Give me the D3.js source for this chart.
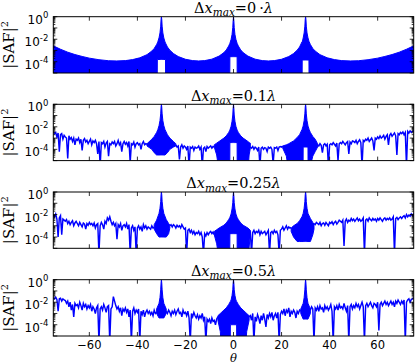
<!DOCTYPE html>
<html><head><meta charset="utf-8">
<script src="https://cdn.jsdelivr.net/npm/d3@7"></script>
<style>body{margin:0;background:#fff}svg{display:block}</style>
</head><body>
<svg id="chart" width="415" height="364"></svg>
<script>
const _ = null;
// x grid of the noisy series: theta from -75 to 75 in 0.5 degree steps
const thetaStart = -75, thetaStep = 0.5;
const xTicks = [-60, -40, -20, 0, 20, 40, 60];
const yLabelExps = [0, -2, -4];
const panelValues = ["0", "0.1", "0.25", "0.5"];

// |SAF|^2 as log10 values (null = covered by the dense lobe band)
const p2Noise = [
-2.45,-2.6,-2.5,-2.9,-2.55,-4.2,-2.7,-2.6,-3.1,-2.75,
-2.9,-3.0,-4.8,-2.8,-3.1,-2.95,-3.3,-3.0,-3.6,-3.1,
-3.2,-3.0,-3.4,-3.1,-4.1,-3.2,-3.05,-3.35,-3.2,-3.5,
-3.3,-3.1,-3.6,-3.25,-3.4,-3.2,-3.5,-4.4,-3.3,-5.5,
-3.4,-3.5,-3.3,-3.8,-3.45,-3.3,-4.6,-3.5,-3.6,-3.35,
-3.5,-3.3,-3.7,-3.5,-3.2,-3.6,-3.4,-4.2,-3.5,-3.3,
-3.55,-3.4,-3.7,-3.3,-5.2,-3.5,-3.6,-3.35,-3.8,-3.5,
-3.4,-3.6,-3.5,-4.0,-3.5,-3.3,-3.6,-3.5,-3.55,_,
_,_,_,_,_,_,_,_,_,_,
_,_,_,_,_,_,_,_,_,_,
_,_,-3.6,-3.8,-3.7,-4.9,-3.8,-3.6,-3.9,-3.7,
-3.8,-4.0,-3.7,-5.5,-3.8,-3.9,-3.75,-4.1,-3.8,-3.9,
-3.85,-3.7,-4.0,-3.8,-5.5,-3.9,-3.8,-4.2,-3.75,-3.9,
-3.8,-3.7,-3.9,-3.75,-3.8,_,_,_,_,_,
_,_,_,_,_,_,_,_,_,_,
_,_,_,_,_,_,_,_,_,_,
_,_,_,_,-3.8,-3.9,-3.75,-4.0,-3.8,-3.9,
-4.1,-3.8,-5.5,-3.9,-3.8,-4.0,-3.85,-3.9,-4.2,-3.8,
-3.9,-3.8,-4.0,-5.3,-3.85,-3.9,-3.8,-4.1,-3.8,-3.75,
-3.8,-3.7,_,_,_,_,_,_,_,_,
_,_,_,_,_,_,_,_,_,_,
_,_,_,_,_,_,_,_,_,_,
-3.6,-3.7,-3.5,-3.65,-4.3,-3.6,-3.5,-3.7,-3.55,-5.5,
-3.6,-3.5,-3.6,-3.4,-3.55,-3.7,-3.45,-5.0,-3.5,-3.4,
-3.5,-3.3,-3.45,-3.6,-3.4,-3.3,-4.4,-3.35,-3.5,-3.25,
-3.3,-3.4,-3.2,-3.5,-3.3,-3.15,-3.4,-5.5,-3.2,-3.3,
-3.1,-3.2,-3.0,-3.3,-3.15,-3.0,-3.25,-4.1,-3.0,-3.1,
-2.9,-3.05,-2.8,-3.0,-2.9,-2.75,-3.1,-2.85,-2.7,-3.6,
-2.75,-2.6,-2.85,-2.7,-2.55,-2.8,-4.5,-2.6,-2.7,-2.5,
-2.6,-2.45,-2.7,-2.5,-5.5,-2.4,-2.55,-2.35,-2.5,-2.4,
-2.35];

const p3Noise = [
-2.0,-2.2,-1.95,-2.4,-4.0,-2.3,-2.1,-3.8,-2.4,-2.5,
-2.6,-2.45,-2.8,-2.6,-2.9,-2.7,-2.55,-3.0,-2.75,-2.6,
-2.8,-3.0,-2.7,-2.9,-3.1,-2.75,-2.85,-3.3,-2.8,-2.95,
-2.7,-2.9,-2.8,-3.0,-2.75,-3.2,-2.9,-2.8,-5.5,-3.0,
-2.7,-2.9,-3.3,-2.6,-2.8,-2.3,-2.5,-2.2,-2.6,-2.9,
-2.7,-3.0,-2.8,-4.2,-2.9,-3.1,-2.8,-3.4,-3.0,-2.9,
-3.1,-2.8,-3.3,-2.9,-5.5,-3.2,-3.0,-3.4,-3.1,-5.5,
-3.2,-3.0,-3.3,-3.1,-3.5,-2.9,-3.2,-3.0,-3.3,-3.1,
-3.2,-3.3,-3.0,-3.2,-3.1,_,_,_,_,_,
_,_,_,_,_,_,_,-3.0,-2.9,-3.1,
-2.9,-3.0,-3.2,-2.95,-3.1,-3.0,-3.2,-2.9,-3.1,-3.3,
-3.2,-5.5,-3.4,-3.3,-3.6,-3.4,-3.7,-3.5,-3.8,-3.6,
-3.7,-3.5,-3.8,-3.6,-4.0,-5.5,-3.7,-3.9,-3.6,-3.8,
-3.6,-3.5,-3.7,-3.55,-3.8,_,_,_,_,_,
_,_,_,_,_,_,_,_,_,_,
_,_,_,_,_,_,_,_,_,_,
_,_,_,_,-3.5,-5.5,-3.6,-3.4,-3.7,-3.5,
-3.6,-3.4,-3.8,-3.5,-3.7,-3.6,-3.5,-3.8,-3.6,-3.4,
-5.5,-3.6,-3.5,-3.7,-3.4,-3.6,-3.5,-3.8,-5.5,-3.4,
-3.3,-3.1,-3.4,-3.2,-3.0,-3.3,-3.1,-3.2,-3.15,_,
_,_,_,_,_,_,_,_,_,_,
_,_,_,_,_,_,_,-2.8,-2.9,-2.7,
-2.8,-2.9,-2.7,-3.0,-2.8,-2.75,-2.95,-2.7,-2.85,-3.0,
-2.7,-2.8,-2.65,-2.9,-2.7,-2.6,-2.85,-2.7,-2.5,-2.6,
-2.7,-2.5,-4.8,-2.6,-2.4,-2.7,-2.5,-2.6,-2.35,-2.55,
-2.4,-2.6,-2.45,-2.3,-2.55,-2.4,-2.6,-2.5,-2.3,-5.5,
-2.5,-2.4,-2.6,-2.3,-2.45,-2.55,-2.35,-2.5,-2.4,-2.6,
-2.35,-2.5,-2.3,-2.45,-2.6,-2.4,-2.3,-2.5,-2.35,-2.45,
-2.3,-2.5,-2.4,-2.2,-5.5,-2.35,-2.25,-2.45,-2.3,-2.2,
-2.35,-2.2,-2.1,-2.3,-2.0,-2.2,-2.05,-2.15,-1.95,-2.1,
-1.9];

const p4Noise = [
-1.6,-1.7,-1.55,-1.75,-2.8,-1.7,-1.65,-1.9,-1.7,-1.8,
-1.85,-2.1,-1.9,-2.4,-2.0,-2.7,-2.2,-3.3,-2.1,-2.3,
-2.2,-2.5,-2.0,-2.3,-2.7,-2.1,-2.4,-2.2,-2.6,-2.3,
-2.5,-2.2,-2.8,-2.4,-2.6,-3.0,-2.5,-2.3,-5.5,-2.6,
-2.4,-2.7,-2.2,-2.5,-2.9,-2.4,-2.3,-5.5,-2.6,-2.4,
-1.5,-1.9,-2.3,-2.6,-2.4,-2.8,-2.5,-3.2,-2.6,-2.8,
-2.5,-2.9,-2.6,-3.3,-2.7,-5.5,-2.8,-2.5,-3.0,-2.7,
-2.9,-2.6,-5.5,-2.8,-3.1,-2.7,-3.3,-2.9,-2.7,-3.0,
-2.8,-3.1,-2.9,-3.2,-2.7,-3.0,-2.9,_,_,_,
_,_,_,_,-2.8,-3.0,-2.7,-2.9,-3.2,-2.8,
-3.0,-2.7,-3.1,-2.8,-2.6,-3.0,-2.9,-3.3,-2.7,-3.0,
-2.9,-3.2,-2.8,-3.4,-5.5,-3.0,-3.3,-2.9,-3.2,-3.4,
-3.1,-3.5,-3.2,-3.4,-3.0,-3.6,-3.3,-5.5,-3.5,-3.7,
-3.5,-3.9,-3.4,-3.7,-3.6,-4.0,-3.5,-3.3,_,_,
_,_,_,_,_,_,_,_,_,_,
_,_,_,_,_,_,_,_,_,_,
_,_,_,-3.3,-3.2,-3.6,-3.0,-5.5,-3.3,-3.7,
-3.1,-3.4,-3.9,-3.2,-3.6,-3.0,-3.5,-4.2,-3.1,-3.4,
-3.0,-3.3,-2.9,-3.6,-3.2,-3.0,-3.4,-2.9,-5.5,-3.1,
-2.8,-3.0,-2.6,-3.2,-2.7,-2.9,-2.5,-3.3,-2.8,-3.0,
-2.7,-2.9,-3.4,-2.8,-3.0,-2.7,-2.8,_,_,_,
_,_,_,_,-2.7,-2.4,-2.6,-5.5,-2.5,-2.7,
-2.4,-2.8,-2.3,-2.6,-2.5,-2.9,-2.3,-2.6,-2.4,-2.7,
-2.5,-2.2,-2.8,-5.5,-2.4,-2.6,-2.3,-2.7,-2.2,-2.5,
-2.4,-2.6,-2.1,-2.5,-2.8,-2.3,-5.5,-2.4,-2.2,-2.6,
-2.3,-2.5,-2.1,-2.4,-2.2,-2.6,-2.3,-2.0,-2.4,-5.5,
-2.3,-2.1,-2.4,-2.2,-2.0,-2.3,-2.5,-2.1,-2.2,-2.4,
-2.0,-4.5,-2.2,-2.0,-2.3,-2.1,-1.9,-2.2,-2.0,-2.3,
-2.1,-1.9,-2.2,-2.0,-2.4,-1.9,-2.1,-1.8,-2.0,-2.2,
-1.9,-2.1,-1.8,-5.5,-2.0,-1.8,-1.7,-2.0,-1.75,-1.7,
-1.6];

// Dense side-lobe bands: upper / lower edge (log10) at knot angles
const p1BandTheta = [
-75,-72,-69,-66,-63,-60,-56,-52,-48.6,-45,-42,-39,-36,-34,-33,
-32,-31.75,-31.7,-31.5,-31,-30.6,-30.3,-30.15,-30,-29.85,-29.7,-29.4,-29,-28.5,-28.3,-28.25,
-27.5,-26.5,-25,-23,-20,-17,-14.5,-12,-9,-6,-4,-3,-2,-1.55,
-1.5,-1,-0.6,-0.3,-0.15,0,0.15,0.3,0.6,1,1.5,
1.55,2,3,4,6,9,12,14.5,17,20,23,25,26.5,27.5,28.5,28.55,
28.6,29,29.4,29.7,29.85,30,30.15,30.3,30.6,31,31.4,
31.45,32,33,34,36,39,42,45,48.6,52,56,60,63,66,69,72,75];
const p1BandHi = [
-2.59,-2.89,-3.15,-3.36,-3.53,-3.68,-3.82,-3.91,-3.93,-3.90,-3.81,-3.65,-3.37,-3.05,-2.82,
-2.47,-2.35,-2.32,-2.23,-1.88,-1.44,-0.84,-0.23,0,-0.24,-0.84,-1.44,-1.89,-2.24,-2.33,-2.36,
-2.69,-2.97,-3.27,-3.54,-3.78,-3.90,-3.93,-3.90,-3.77,-3.50,-3.19,-2.95,-2.60,-2.38,
-2.36,-2.01,-1.57,-0.96,-0.36,0,-0.36,-0.96,-1.57,-2.01,-2.36,
-2.38,-2.60,-2.95,-3.19,-3.50,-3.77,-3.90,-3.93,-3.90,-3.78,-3.54,-3.27,-2.97,-2.69,-2.24,-2.26,
-2.28,-1.89,-1.44,-0.84,-0.24,0,-0.23,-0.84,-1.44,-1.88,-2.18,
-2.20,-2.47,-2.82,-3.05,-3.37,-3.65,-3.81,-3.90,-3.93,-3.91,-3.82,-3.68,-3.53,-3.36,-3.15,-2.89,-2.59];
const p1BandLo = [
-6,-6,-6,-6,-6,-6,-6,-6,-6,-6,-6,-6,-6,-6,-6,
-6,-6,-3.8,-3.8,-3.8,-3.8,-3.8,-3.8,-3.8,-3.8,-3.8,-3.8,-3.8,-3.8,-3.8,-6,
-6,-6,-6,-6,-6,-6,-6,-6,-6,-6,-6,-6,-6,-6,
-3.55,-3.55,-3.55,-3.55,-3.55,-3.55,-3.55,-3.55,-3.55,-3.55,-3.55,
-6,-6,-6,-6,-6,-6,-6,-6,-6,-6,-6,-6,-6,-6,-6,-6,
-3.85,-3.85,-3.85,-3.85,-3.85,-3.85,-3.85,-3.85,-3.85,-3.85,-3.85,
-6,-6,-6,-6,-6,-6,-6,-6,-6,-6,-6,-6,-6,-6,-6,-6,-6];

const p2BandTheta = [
-36,-34,-33,-32,-31.5,-31,-30.6,-30.3,-30.15,-30,-29.85,-29.7,-29.4,-29,-28.5,-27.5,-26.5,-25,-24, _,
-8,-7,-6,-4,-3,-2,-1.55,-1.5,-1,-0.6,-0.3,-0.15,0,0.15,0.3,0.6,1,1.5,1.55,2,3,4,6,6.5,7, _,
20.5,22,23,25,26.5,27.5,28.5,28.95,29,29.4,29.7,29.85,30,30.15,30.3,30.6,31,31.05,31.5,32,33,34,35];
const p2BandHi = [
-3.5,-3.1,-2.85,-2.5,-2.25,-1.9,-1.45,-0.85,-0.25,0,-0.25,-0.85,-1.45,-1.9,-2.25,-2.7,-3.0,-3.3,-3.5, _,
-3.6,-3.45,-3.3,-3.0,-2.8,-2.5,-2.3,-2.28,-1.95,-1.5,-0.95,-0.35,0,-0.35,-0.95,-1.5,-1.95,-2.28,-2.3,-2.5,-2.8,-3.0,-3.3,-3.4,-3.45, _,
-3.7,-3.6,-3.5,-3.25,-2.95,-2.7,-2.25,-1.95,-1.9,-1.45,-0.85,-0.25,0,-0.25,-0.85,-1.45,-1.9,-1.95,-2.25,-2.5,-2.85,-3.1,-3.5];
const p2BandLo = [
-3.7,-4.0,-4.3,-4.5,-4.5,-4.5,-4.5,-4.5,-4.5,-4.5,-4.5,-4.5,-4.5,-4.5,-4.5,-4.3,-4.0,-3.8,-3.7, _,
-3.8,-4.5,-6,-6,-6,-6,-6,-3.4,-3.4,-3.4,-3.4,-3.4,-3.4,-3.4,-3.4,-3.4,-3.4,-3.4,-6,-6,-6,-6,-6,-4.5,-3.9, _,
-3.9,-4.6,-6,-6,-6,-6,-6,-6,-3.8,-3.8,-3.8,-3.8,-3.8,-3.8,-3.8,-3.8,-3.8,-6,-6,-5.5,-4.6,-4.2,-3.8];

const p3BandTheta = [
-33,-32,-31,-30.6,-30.3,-30.15,-30,-29.85,-29.7,-29.4,-29,-28,-27,-26.5, _,
-8,-7,-6,-4,-3,-2,-1.55,-1.5,-1,-0.6,-0.3,-0.15,0,0.15,0.3,0.6,1,1.5,1.55,2,3,4,6,7, _,
24,25,26.5,27.5,28.5,29,29.4,29.7,29.85,30,30.15,30.3,30.6,31,32,33,33.5];
const p3BandHi = [
-2.9,-2.5,-1.9,-1.45,-0.85,-0.25,0,-0.25,-0.85,-1.45,-1.9,-2.45,-2.8,-2.95, _,
-3.5,-3.35,-3.2,-2.95,-2.75,-2.45,-2.27,-2.25,-1.95,-1.5,-0.95,-0.35,0,-0.35,-0.95,-1.5,-1.95,-2.25,-2.27,-2.45,-2.75,-2.95,-3.2,-3.4, _,
-3.2,-3.0,-2.8,-2.55,-2.2,-1.9,-1.45,-0.85,-0.25,0,-0.25,-0.85,-1.45,-1.9,-2.35,-2.7,-2.85];
const p3BandLo = [
-3.3,-3.7,-4.0,-4.0,-4.0,-4.0,-4.0,-4.0,-4.0,-4.0,-4.0,-4.0,-3.7,-3.2, _,
-3.8,-4.6,-6,-6,-6,-6,-6,-3.7,-3.7,-3.7,-3.7,-3.7,-3.7,-3.7,-3.7,-3.7,-3.7,-3.7,-6,-6,-6,-6,-6,-3.8, _,
-3.5,-4.0,-4.4,-4.4,-4.4,-4.4,-4.4,-4.4,-4.4,-4.4,-4.4,-4.4,-4.4,-4.4,-4.4,-3.8,-3.3];

const p4BandTheta = [
-32,-31,-30.6,-30.3,-30.15,-30,-29.85,-29.7,-29.4,-29,-28, _,
-6.5,-5.5,-5,-4,-3,-2,-1.35,-1.3,-1,-0.6,-0.3,-0.15,0,0.15,0.3,0.6,1,1.3,1.35,2,3,4,5,5.5,6.5, _,
28,29,29.4,29.7,29.85,30,30.15,30.3,30.6,31,32];
const p4BandHi = [
-2.6,-2.1,-1.6,-0.9,-0.3,0,-0.3,-0.9,-1.6,-2.1,-2.6, _,
-3.2,-3.0,-2.9,-2.7,-2.5,-2.2,-1.95,-1.93,-1.8,-1.4,-0.9,-0.3,0,-0.3,-0.9,-1.4,-1.8,-1.93,-1.95,-2.2,-2.5,-2.7,-2.9,-3.0,-3.2, _,
-2.6,-2.1,-1.6,-0.9,-0.3,0,-0.3,-0.9,-1.6,-2.1,-2.6];
const p4BandLo = [
-3.0,-3.4,-3.4,-3.4,-3.4,-3.4,-3.4,-3.4,-3.4,-3.4,-3.0, _,
-3.6,-4.6,-6,-6,-6,-6,-6,-4.0,-4.0,-4.0,-4.0,-4.0,-4.0,-4.0,-4.0,-4.0,-4.0,-4.0,-6,-6,-6,-6,-6,-4.6,-3.6, _,
-3.0,-3.5,-3.5,-3.5,-3.5,-3.5,-3.5,-3.5,-3.5,-3.5,-3.0];

// ---------------------------------------------------------------
const panels = [
  {noise: null,    bt: p1BandTheta, bh: p1BandHi, bl: p1BandLo, val: panelValues[0]},
  {noise: p2Noise, bt: p2BandTheta, bh: p2BandHi, bl: p2BandLo, val: panelValues[1]},
  {noise: p3Noise, bt: p3BandTheta, bh: p3BandHi, bl: p3BandLo, val: panelValues[2]},
  {noise: p4Noise, bt: p4BandTheta, bh: p4BandHi, bl: p4BandLo, val: panelValues[3]}
];

const left = 53.3, right = 413.7, ph = 56.3;
const tops = [16.7, 104.3, 192, 279.7];
const blue = "#0000ff";
const svg = d3.select("#chart");
const x = d3.scaleLinear().domain([-75, 75]).range([left, right]);

panels.forEach((p, k) => {
  const top = tops[k], bottom = top + ph;
  const y = d3.scaleLog().domain([1e-5, 1]).range([bottom, top]);
  const Y = v => y(Math.pow(10, v));
  const g = svg.append("g");
  const cid = "clip" + k;
  svg.append("defs").append("clipPath").attr("id", cid)
    .append("rect").attr("x", left).attr("y", top).attr("width", right - left).attr("height", ph);
  const plot = g.append("g").attr("clip-path", `url(#${cid})`);

  // dense band
  const band = p.bt.map((t, i) => ({t, hi: p.bh[i], lo: p.bl[i]}));
  const area = d3.area().defined(d => d.t != null)
    .x(d => x(d.t)).y0(d => Y(d.lo)).y1(d => Y(d.hi));
  plot.append("path").attr("d", area(band))
    .attr("fill", blue).attr("stroke", blue).attr("stroke-width", 1);

  // noisy series
  if (p.noise) {
    const pts = p.noise.map((v, i) => ({t: thetaStart + i * thetaStep, v}));
    const line = d3.line().defined(d => d.v != null).x(d => x(d.t)).y(d => Y(d.v));
    plot.append("path").attr("d", line(pts))
      .attr("fill", "none").attr("stroke", blue).attr("stroke-width", 1.45)
      .attr("stroke-linejoin", "miter");
  }

  // ticks (inward) on all four sides
  const tk = g.append("g").attr("stroke", "#000").attr("stroke-width", 0.8);
  xTicks.forEach(t => {
    tk.append("line").attr("x1", x(t)).attr("x2", x(t)).attr("y1", bottom).attr("y2", bottom - 4);
    tk.append("line").attr("x1", x(t)).attr("x2", x(t)).attr("y1", top).attr("y2", top + 4);
  });
  for (let e = -5; e <= 0; e++) {
    const major = y(Math.pow(10, e));
    tk.append("line").attr("x1", left).attr("x2", left + 4).attr("y1", major).attr("y2", major);
    tk.append("line").attr("x1", right).attr("x2", right - 4).attr("y1", major).attr("y2", major);
    if (e < 0) for (let m = 2; m <= 9; m++) {
      const yy = y(m * Math.pow(10, e));
      tk.append("line").attr("x1", left).attr("x2", left + 2).attr("y1", yy).attr("y2", yy);
      tk.append("line").attr("x1", right).attr("x2", right - 2).attr("y1", yy).attr("y2", yy);
    }
  }

  // frame
  g.append("rect").attr("x", left).attr("y", top).attr("width", right - left).attr("height", ph)
    .attr("fill", "none").attr("stroke", "#000").attr("stroke-width", 1);

  // y tick labels 10^e
  yLabelExps.forEach(e => {
    const yy = y(Math.pow(10, e));
    const t = g.append("text").attr("x", left - 5).attr("y", yy + 7)
      .attr("text-anchor", "end").attr("font-family", "DejaVu Sans").attr("font-size", 12);
    t.append("tspan").text("10");
    t.append("tspan").attr("dy", -5.5).attr("font-size", 8.5).text(e === 0 ? "0" : "-" + (-e));
  });

  // y axis label
  const yl = g.append("text")
    .attr("transform", `translate(13.5,${top + ph / 2}) rotate(-90)`)
    .attr("text-anchor", "middle").attr("font-family", "DejaVu Serif").attr("font-size", 15);
  yl.append("tspan").text("|SAF|");
  yl.append("tspan").attr("dy", -6).attr("font-size", 10).text("2");

  // title
  const tt = g.append("text").attr("x", (left + right) / 2).attr("y", top - 3.8)
    .attr("text-anchor", "middle").attr("font-family", "DejaVu Serif").attr("font-size", 14.5);
  tt.append("tspan").text("\u0394");
  tt.append("tspan").attr("font-style", "italic").text("x");
  tt.append("tspan").attr("font-style", "italic").attr("font-size", 10.5).attr("dy", 3.5).text("max");
  tt.append("tspan").attr("dy", -3.5).text("=" + (p.val === "0" ? "0\u2009\u00b7" : p.val));
  tt.append("tspan").attr("font-style", "italic").text("\u03bb");

  // x tick labels only on bottom panel
  if (k === 3) {
    xTicks.forEach(t => {
      g.append("text").attr("x", x(t)).attr("y", bottom + 13).attr("text-anchor", "middle")
        .attr("font-family", "DejaVu Sans").attr("font-size", 11.5)
        .text(t < 0 ? "\u2212" + (-t) : String(t));
    });
    g.append("text").attr("x", (left + right) / 2).attr("y", bottom + 25.8).attr("text-anchor", "middle")
      .attr("font-family", "DejaVu Serif").attr("font-style", "italic").attr("font-size", 11.5).text("\u03b8");
  }
});
</script>
</body></html>
